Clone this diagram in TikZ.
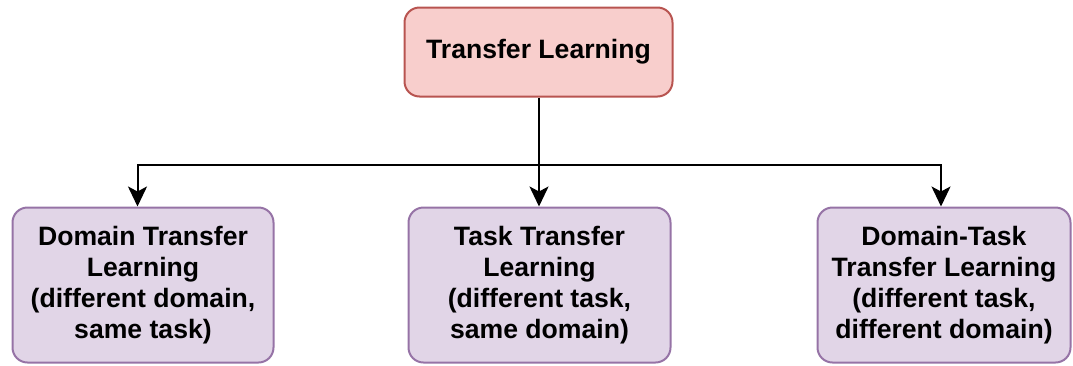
\documentclass[tikz,border=0pt]{standalone}
\usepackage{fontspec}
\setmainfont{Liberation Sans}
\usetikzlibrary{arrows.meta,calc}

\definecolor{rootfill}{HTML}{F8CECC}
\definecolor{rootdraw}{HTML}{B85450}
\definecolor{leaffill}{HTML}{E1D5E7}
\definecolor{leafdraw}{HTML}{9673A6}

\tikzset{
  box/.style={rounded corners=15pt, line width=2pt, inner sep=0pt, align=center,
    font=\fontsize{26.6}{31}\selectfont\bfseries},
  rootbox/.style={box, fill=rootfill, draw=rootdraw, minimum width=268pt, minimum height=89pt},
  leafbox/.style={box, fill=leaffill, draw=leafdraw, minimum height=155pt},
  link/.style={line width=2pt, draw=black},
  arrowlink/.style={link, -{Stealth[length=20pt, width=19pt, inset=5pt]}}
}

\begin{document}
\begin{tikzpicture}[x=1pt, y=-1pt]
  \useasboundingbox (0,0) rectangle (1073,365);

  \node[rootbox] (root) at (538.5,52) {Transfer Learning};

  \node[leafbox, minimum width=261pt] (dom) at (143,285)
    {Domain Transfer\\Learning\\(different domain,\\same task)};
  \node[leafbox, minimum width=262pt] (task) at (539.5,285)
    {Task Transfer\\Learning\\(different task,\\same domain)};
  \node[leafbox, minimum width=253pt] (both) at (944,285)
    {Domain-Task\\Transfer Learning\\(different task,\\different domain)};

  % junction points on the distribution bar
  \coordinate (jmid) at (539,165);
  \coordinate (jleft) at (137.5,165);
  \coordinate (jright) at (941,165);

  \draw[link] (root.south) -- (root.south |- jmid) -- (jmid);
  \draw[link, line cap=rect] (jleft) -- (jright);
  \draw[arrowlink] (jleft) -- (jleft |- dom.north);
  \draw[arrowlink] (jmid) -- (jmid |- task.north);
  \draw[arrowlink] (jright) -- (jright |- both.north);
\end{tikzpicture}
\end{document}
